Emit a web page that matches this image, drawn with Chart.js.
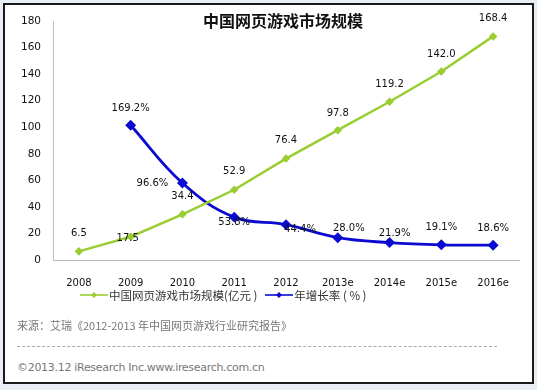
<!DOCTYPE html>
<html>
<head>
<meta charset="utf-8">
<script src="https://cdn.jsdelivr.net/npm/chart.js@4.4.1/dist/chart.umd.min.js"></script>
<style>
  html, body { margin: 0; padding: 0; }
  body { width: 537px; height: 390px; background: #e9eef6; position: relative; overflow: hidden; font-family: "Noto Sans CJK SC", "DejaVu Sans", sans-serif; }
  #frame { position: absolute; left: 3px; top: 3px; width: 527px; height: 377px; border: 2px solid #1a1a1a; background: #fff; }
  #wrap { position: absolute; left: 0; top: 0; width: 537px; height: 290px; }
  #title { position: absolute; left: 183px; top: 10px; width: 200px; text-align: center; font: bold 16px/20px "Noto Sans CJK SC", sans-serif; color: #111; white-space: nowrap; }
  #legend { position: absolute; left: 80px; top: 287px; height: 16px; display: flex; align-items: center; font: 11.5px/16px "Noto Sans CJK SC", sans-serif; color: #333; white-space: nowrap; }
  #legend .item { display: flex; align-items: center; margin-right: 8px; }
  #legend svg { margin-right: 1px; }
  #source { position: absolute; left: 17px; top: 317px; font: 11px/16px "Noto Sans CJK SC", sans-serif; color: #777; white-space: nowrap; }
  #rule { position: absolute; left: 17px; top: 346px; width: 480px; border-top: 1px dashed #aaa; }
  #copy { position: absolute; left: 17px; top: 360px; font: 11px/16px "DejaVu Sans", "Noto Sans CJK SC", sans-serif; color: #777; white-space: nowrap; letter-spacing: -0.3px; }
</style>
</head>
<body>
<div id="frame"></div>
<div id="wrap"><canvas id="c" width="537" height="290"></canvas></div>
<div id="title">中国网页游戏市场规模</div>
<div id="legend"></div>
<div id="source">来源：艾瑞《2012-2013 年中国网页游戏行业研究报告》</div>
<div id="rule"></div>
<div id="copy">©2013.12 iResearch Inc.www.iresearch.com.cn</div>
<script>
// ---- data ----
const categories = ['2008', '2009', '2010', '2011', '2012', '2013e', '2014e', '2015e', '2016e'];
const marketSize = [6.5, 17.5, 34.4, 52.9, 76.4, 97.8, 119.2, 142.0, 168.4];
const growthRate = [null, 169.2, 96.6, 53.8, 44.4, 28.0, 21.9, 19.1, 18.6];
const seriesNames = ['中国网页游戏市场规模(亿元 )', '年增长率 ( % )'];
const yTickMin = 0, yTickMax = 180, yTickStep = 20;

// ---- styles ----
const GREEN = '#9acd32';
const BLUE = '#0a0ad0';

// label offsets (pixels, relative to each point)
const labelOffsets = [
  [[0,-18],[-3,2],[0,-18],[0,-18],[0,-18],[0,-17],[0,-17],[0,-17],[0,-18]],
  [[0,0],[0,-17],[-30,0],[0,5],[14,5],[11,-9],[5,-9],[0,-17],[0,-17]]
];

const pointLabels = {
  id: 'pointLabels',
  afterDatasetsDraw(chart) {
    const ctx = chart.ctx;
    ctx.save();
    ctx.font = '10px "DejaVu Sans", sans-serif';
    ctx.textAlign = 'center';
    ctx.textBaseline = 'middle';
    ctx.fillStyle = '#111';
    chart.data.datasets.forEach((ds, di) => {
      const meta = chart.getDatasetMeta(di);
      meta.data.forEach((pt, i) => {
        const v = ds.data[i];
        if (v === null || v === undefined) return;
        const off = labelOffsets[di][i];
        const txt = di === 0 ? v.toFixed(1) : v.toFixed(1) + '%';
        ctx.fillText(txt, pt.x + off[0], pt.y + off[1]);
      });
    });
    ctx.restore();
  }
};

const chart = new Chart(document.getElementById('c'), {
  type: 'line',
  data: {
    labels: categories,
    datasets: [
      {
        label: seriesNames[0],
        data: marketSize,
        borderColor: GREEN,
        backgroundColor: GREEN,
        borderWidth: 2.5,
        pointStyle: 'rectRot',
        pointRadius: 2.5,
        tension: 0,
        yAxisID: 'y'
      },
      {
        label: seriesNames[1],
        data: growthRate,
        borderColor: BLUE,
        backgroundColor: BLUE,
        borderWidth: 2.8,
        pointStyle: 'rectRot',
        pointRadius: 3.5,
        tension: 0.4,
        spanGaps: false,
        yAxisID: 'y1'
      }
    ]
  },
  options: {
    responsive: false,
    animation: false,
    devicePixelRatio: 1,
    layout: { padding: { left: 12, right: 18, top: 21, bottom: 0 } },
    plugins: {
      legend: { display: false },
      title: { display: false },
      tooltip: { enabled: false }
    },
    scales: {
      x: {
        offset: true,
        grid: { display: false },
        border: { display: true, color: '#b8b8b8', width: 1 },
        ticks: { color: '#111', font: { family: 'DejaVu Sans', size: 10 }, padding: 9 },
        afterFit(s) { s.height = 30; }
      },
      y: {
        min: yTickMin, max: yTickMax,
        grid: { display: false },
        border: { display: true, color: '#c0c0c0', width: 1 },
        ticks: { stepSize: yTickStep, color: '#111', font: { family: 'DejaVu Sans', size: 10.5 }, padding: 4 },
        afterFit(s) { s.width = 41; }
      },
      y1: {
        display: false,
        min: 0, max: 300
      }
    }
  },
  plugins: [pointLabels]
});

// HTML legend built from the chart's datasets
const legend = document.getElementById('legend');
chart.data.datasets.forEach(ds => {
  const item = document.createElement('span');
  item.className = 'item';
  const c = ds.borderColor;
  item.innerHTML = '<svg width="28" height="8" viewBox="0 0 28 8"><line x1="0" y1="4" x2="28" y2="4" stroke="' + c + '" stroke-width="1.6"/><polygon points="14,1 17,4 14,7 11,4" fill="' + c + '"/></svg>';
  const t = document.createElement('span');
  t.textContent = ds.label;
  item.appendChild(t);
  legend.appendChild(item);
});
</script>
</body>
</html>
